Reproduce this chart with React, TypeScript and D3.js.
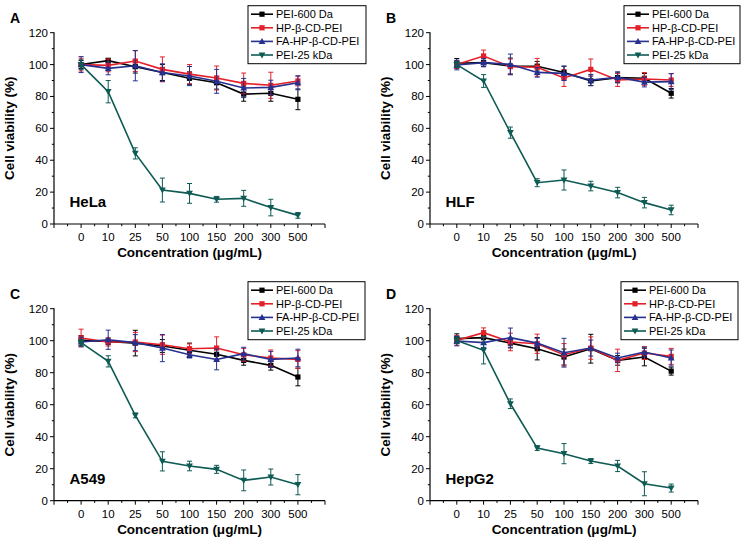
import React from "react";
import * as d3 from "d3";

const concentrations = ["0", "10", "25", "50", "100", "150", "200", "300", "500"];
const seriesNames = ["PEI-600 Da", "HP-β-CD-PEI", "FA-HP-β-CD-PEI", "PEI-25 kDa"];
const yTicks = [0, 20, 40, 60, 80, 100, 120];

// HeLa
const helaPEI600 = [100, 102.5, 98.7, 95, 91.4, 88.6, 81.5, 82, 78.2];
const helaPEI600Err = [2.5, 1.5, 4, 5, 4, 4, 4.5, 5, 6.5];
const helaHP = [100, 99.5, 102.2, 97, 94, 91.6, 88.2, 87, 89.7];
const helaHPErr = [4, 4, 6.5, 7.8, 6, 7.5, 6.5, 8.2, 3];
const helaFA = [100, 97.6, 99.3, 95, 92.8, 89.5, 85.3, 85.7, 88.6];
const helaFAErr = [5, 4, 9.5, 5.5, 6, 7.5, 6, 4.5, 4.4];
const helaPEI25 = [100, 83, 44.3, 21.3, 19.2, 15.5, 16.1, 10.3, 5.4];
const helaPEI25Err = [3, 7, 3.5, 7.5, 6.2, 1.8, 5, 5.2, 1.8];

// HLF
const hlfPEI600 = [100.8, 101.2, 99.1, 99, 95, 89.8, 91.8, 91.4, 82];
const hlfPEI600Err = [3, 2.5, 5, 3, 4, 3, 3, 3, 3];
const hlfHP = [100, 105.4, 98.7, 98.3, 91.6, 97, 90.3, 91, 90.3];
const hlfHPErr = [2.5, 3.7, 4.8, 5.6, 5.3, 6.5, 4, 4, 4];
const hlfFA = [99.7, 101.2, 100.1, 95.1, 94.5, 90.3, 92, 89, 89.3];
const hlfFAErr = [3, 2.5, 6.5, 3, 4.5, 3.5, 3.5, 3, 5];
const hlfPEI25 = [100, 89.7, 57.3, 25.9, 27.6, 23.8, 19.7, 13.4, 8.8];
const hlfPEI25Err = [2, 4, 3.5, 2.5, 6.3, 3, 3.3, 3.3, 3];

// A549
const a549PEI600 = [100.2, 99.6, 98.5, 96.7, 94, 91.5, 87.7, 84.6, 77.3];
const a549PEI600Err = [3, 2, 8, 4, 4.5, 4, 3, 3, 5.5];
const a549HP = [101.7, 99.2, 99.2, 97.5, 95, 95.4, 91.2, 89.2, 88.3];
const a549HPErr = [5.5, 2.5, 6, 6, 3, 7, 4, 5, 5.5];
const a549FA = [99.2, 100.6, 98.8, 95.4, 91.2, 88.3, 91.9, 88.3, 89.2];
const a549FAErr = [3, 6, 5, 8.5, 2, 6.5, 4, 5, 5.5];
const a549PEI25 = [98.8, 87.1, 53.3, 24.6, 21.7, 19.6, 12.7, 14.8, 10];
const a549PEI25Err = [2, 3.5, 1.5, 6, 3, 2.5, 6.5, 5, 6.3];

// HepG2
const hepPEI600 = [101.3, 101.9, 98.5, 95, 89.8, 95, 87.7, 89.8, 81];
const hepPEI600Err = [3, 3, 3, 7, 5, 9, 3, 5.5, 2.5];
const hepHP = [100.2, 105, 99.2, 98.1, 91.2, 95.4, 87.7, 92.3, 90.2];
const hepHPErr = [3, 3, 5.5, 6, 7, 7, 7, 4, 5];
const hepFA = [99.8, 98.8, 101.9, 98.5, 92.5, 95.4, 89.2, 92.9, 89.2];
const hepFAErr = [3, 3, 6, 3, 9, 5, 3, 3, 5];
const hepPEI25 = [100.2, 94, 60.6, 32.9, 29.4, 24.8, 21.7, 10.6, 7.9];
const hepPEI25Err = [2, 8.5, 3, 1.5, 6.3, 1.5, 3.5, 7.5, 2.5];

const COLORS = ["#000000", "#e3202a", "#26308f", "#0e5a54"];
const SHAPES = ["square", "square", "triangle", "down"];
const FONT = "Arial, 'Liberation Sans', Helvetica, sans-serif";

type PanelSpec = {
  letter: string;
  cell: string;
  x0: number;
  x1: number;
  yTop: number;
  yBot: number;
  legendX: number;
  legendW: number;
  values: number[][];
  errors: number[][];
};

const panels: PanelSpec[] = [
  {
    letter: "A", cell: "HeLa", x0: 54, x1: 325, yTop: 32.7, yBot: 224, legendX: 248, legendW: 118,
    values: [helaPEI600, helaHP, helaFA, helaPEI25],
    errors: [helaPEI600Err, helaHPErr, helaFAErr, helaPEI25Err],
  },
  {
    letter: "B", cell: "HLF", x0: 430, x1: 698, yTop: 32.7, yBot: 224, legendX: 624, legendW: 116,
    values: [hlfPEI600, hlfHP, hlfFA, hlfPEI25],
    errors: [hlfPEI600Err, hlfHPErr, hlfFAErr, hlfPEI25Err],
  },
  {
    letter: "C", cell: "A549", x0: 54, x1: 325, yTop: 308.7, yBot: 500.7, legendX: 248, legendW: 117,
    values: [a549PEI600, a549HP, a549FA, a549PEI25],
    errors: [a549PEI600Err, a549HPErr, a549FAErr, a549PEI25Err],
  },
  {
    letter: "D", cell: "HepG2", x0: 430, x1: 698, yTop: 308.7, yBot: 500.7, legendX: 621, legendW: 117,
    values: [hepPEI600, hepHP, hepFA, hepPEI25],
    errors: [hepPEI600Err, hepHPErr, hepFAErr, hepPEI25Err],
  },
];

function Marker({ shape, x, y, color }: { shape: string; x: number; y: number; color: string }) {
  if (shape === "square") {
    return <rect x={x - 2.6} y={y - 2.6} width={5.2} height={5.2} fill={color} />;
  }
  if (shape === "triangle") {
    return <path d={`M${x},${y - 3.4}L${x + 3.4},${y + 2.6}L${x - 3.4},${y + 2.6}Z`} fill={color} />;
  }
  return <path d={`M${x},${y + 3.4}L${x + 3.4},${y - 2.6}L${x - 3.4},${y - 2.6}Z`} fill={color} />;
}

function Panel({ p }: { p: PanelSpec }) {
  const x = d3.scaleLinear().domain([-1, 9]).range([p.x0, p.x1]);
  const y = d3.scaleLinear().domain([0, 120]).range([p.yBot, p.yTop]);
  const line = d3
    .line<number>()
    .x((_, i) => x(i))
    .y((d) => y(d));
  const majorX = d3.range(-1, 10);
  const minorX = d3.range(-0.5, 9, 1);
  const minorY = d3.range(10, 120, 20);
  const legTop = p.yTop - 27;
  const legH = 58;
  const rowY = (i: number) => legTop + 8.5 + i * 13.6;
  const midX = (p.x0 + p.x1) / 2;
  const midY = (p.yTop + p.yBot) / 2;

  return (
    <g fontFamily={FONT}>
      <line x1={p.x0} x2={p.x0} y1={p.yTop - 0.5} y2={p.yBot} stroke="#000" strokeWidth={1.2} />
      <line x1={p.x0} x2={p.x1} y1={p.yBot} y2={p.yBot} stroke="#000" strokeWidth={1.2} />
      {yTicks.map((t) => (
        <g key={"yt" + t}>
          <line x1={p.x0 - 4} x2={p.x0} y1={y(t)} y2={y(t)} stroke="#000" strokeWidth={1} />
          <text x={p.x0 - 6} y={y(t) + 4} fontSize={11.5} textAnchor="end" fill="#000">
            {t}
          </text>
        </g>
      ))}
      {minorY.map((t) => (
        <line key={"ym" + t} x1={p.x0 - 2.2} x2={p.x0} y1={y(t)} y2={y(t)} stroke="#000" strokeWidth={1} />
      ))}
      {majorX.map((i) => (
        <line key={"xt" + i} x1={x(i)} x2={x(i)} y1={p.yBot} y2={p.yBot + 4} stroke="#000" strokeWidth={1} />
      ))}
      {minorX.map((i) => (
        <line key={"xm" + i} x1={x(i)} x2={x(i)} y1={p.yBot} y2={p.yBot + 2.2} stroke="#000" strokeWidth={1} />
      ))}
      {concentrations.map((c, i) => (
        <text key={"xl" + c} x={x(i)} y={p.yBot + 17} fontSize={11.5} textAnchor="middle" fill="#000">
          {c}
        </text>
      ))}
      <text x={midX} y={p.yBot + 33} fontSize={13.5} fontWeight="bold" textAnchor="middle" fill="#000">
        Concentration (μg/mL)
      </text>
      <text
        transform={`translate(${p.x0 - 40},${midY}) rotate(-90)`}
        fontSize={13.5}
        fontWeight="bold"
        textAnchor="middle"
        fill="#000"
      >
        Cell viability (%)
      </text>
      <text x={p.x0 - 44} y={p.yTop - 10} fontSize={14} fontWeight="bold" fill="#000">
        {p.letter}
      </text>
      <text x={p.x0 + 15.5} y={y(10.5)} fontSize={15} fontWeight="bold" fill="#000">
        {p.cell}
      </text>

      {p.values.map((vals, s) => (
        <g key={"s" + s}>
          <path d={line(vals) || ""} fill="none" stroke={COLORS[s]} strokeWidth={1.6} />
          {vals.map((v, i) => {
            const e = p.errors[s][i];
            return (
              <g key={i} stroke={COLORS[s]} strokeWidth={1}>
                <line x1={x(i)} x2={x(i)} y1={y(v - e)} y2={y(v + e)} />
                <line x1={x(i) - 2.5} x2={x(i) + 2.5} y1={y(v - e)} y2={y(v - e)} />
                <line x1={x(i) - 2.5} x2={x(i) + 2.5} y1={y(v + e)} y2={y(v + e)} />
              </g>
            );
          })}
          {vals.map((v, i) => (
            <Marker key={"m" + i} shape={SHAPES[s]} x={x(i)} y={y(v)} color={COLORS[s]} />
          ))}
        </g>
      ))}

      <rect x={p.legendX} y={legTop} width={p.legendW} height={legH} fill="#fff" stroke="#000" strokeWidth={1} />
      {seriesNames.map((n, i) => (
        <g key={"lg" + i}>
          <line
            x1={p.legendX + 3}
            x2={p.legendX + 25}
            y1={rowY(i)}
            y2={rowY(i)}
            stroke={COLORS[i]}
            strokeWidth={1.6}
          />
          <Marker shape={SHAPES[i]} x={p.legendX + 14} y={rowY(i)} color={COLORS[i]} />
          <text x={p.legendX + 28} y={rowY(i) + 4} fontSize={11} fill="#000">
            {n}
          </text>
        </g>
      ))}
    </g>
  );
}

export default function App() {
  return (
    <svg
      width={744}
      height={544}
      viewBox="0 0 744 544"
      style={{ position: "absolute", left: 0, top: 0, background: "#fff" }}
    >
      <rect width={744} height={544} fill="#fff" />
      {panels.map((p) => (
        <Panel key={p.letter} p={p} />
      ))}
    </svg>
  );
}
